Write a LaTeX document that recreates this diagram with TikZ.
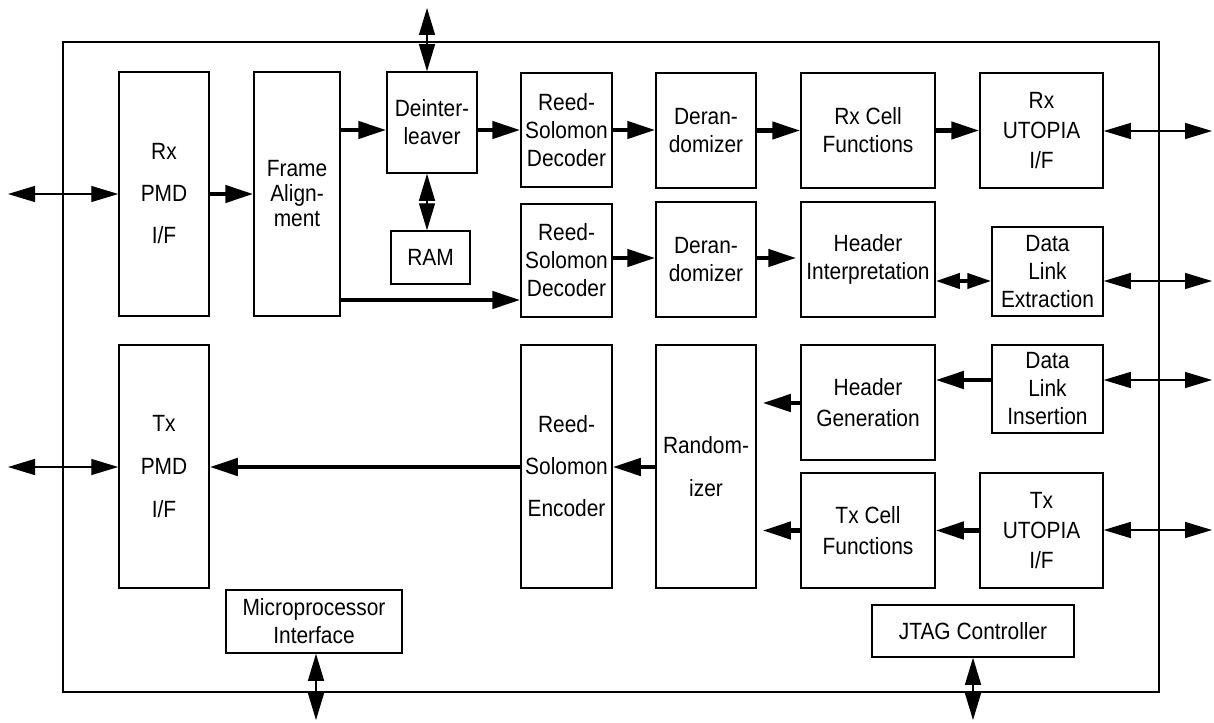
\documentclass[tikz,border=0pt]{standalone}
\usepackage{fontspec}
\setmainfont{Liberation Sans}[FakeStretch=0.89]
\usetikzlibrary{arrows.meta}
\newcommand{\blkfont}{\fontsize{23.5}{28}\selectfont}
\tikzset{
  box/.style={draw, line width=1.5pt, inner sep=0pt, align=center, font=\blkfont},
  dblarrow/.style={line width=1.3pt, {Triangle[length=27pt,width=16pt]}-{Triangle[length=27pt,width=16pt]}},
  fatarrow/.style={line width=4.5pt, -{Triangle[length=28pt,width=17pt]}},
  fatdbl/.style={line width=4pt, {Triangle[length=24pt,width=15pt]}-{Triangle[length=24pt,width=15pt]}},
}
\begin{document}
\begin{tikzpicture}[x=1pt,y=-1pt]
\useasboundingbox (0,0) rectangle (1214,722);
% chip outline
\node[draw, line width=1.6pt, inner sep=0pt, minimum width=1096pt, minimum height=650pt] (chip) at (611,367) {};
% blocks
\node[box, minimum width=90pt, minimum height=244pt] (rxpmd) at (164,194) {Rx\\[14pt]PMD\\[14pt]I/F};
\node[box, minimum width=86pt, minimum height=244pt] (fa) at (297,194) {Frame\\[-3pt]Align-\\[-3pt]ment};
\node[box, minimum width=90pt, minimum height=101pt] (deint) at (432,122.5) {Deinter-\\leaver};
\node[box, minimum width=79pt, minimum height=53pt] (ram) at (430.5,257.5) {RAM};
\node[box, minimum width=91pt, minimum height=114pt] (rs1) at (566.5,130) {Reed-\\Solomon\\Decoder};
\node[box, minimum width=100pt, minimum height=115pt] (der1) at (706,130.5) {Deran-\\domizer};
\node[box, minimum width=134pt, minimum height=115pt] (rxcell) at (868,130.5) {Rx Cell\\Functions};
\node[box, minimum width=123pt, minimum height=115pt] (rxut) at (1041.5,130.5) {Rx\\[2pt]UTOPIA\\[2pt]I/F};
\node[box, minimum width=91pt, minimum height=113pt] (rs2) at (566.5,260.5) {Reed-\\Solomon\\Decoder};
\node[box, minimum width=100pt, minimum height=115pt] (der2) at (706,259.5) {Deran-\\domizer};
\node[box, minimum width=134pt, minimum height=115pt] (hi) at (868,259.5) {Header\\Interpretation};
\node[box, minimum width=111pt, minimum height=89pt] (dle) at (1047.5,271.5) {Data\\Link\\Extraction};
\node[box, minimum width=90pt, minimum height=243pt] (txpmd) at (164,466.5) {Tx\\[15pt]PMD\\[15pt]I/F};
\node[box, minimum width=91pt, minimum height=243pt] (rse) at (566.5,466.5) {Reed-\\[14pt]Solomon\\[14pt]Encoder};
\node[box, minimum width=100pt, minimum height=243pt] (rand) at (706,466.5) {Random-\\[15pt]izer};
\node[box, minimum width=134pt, minimum height=115pt] (hg) at (868,402.5) {Header\\[3pt]Generation};
\node[box, minimum width=111pt, minimum height=88pt] (dli) at (1047.5,389) {Data\\Link\\Insertion};
\node[box, minimum width=134pt, minimum height=115pt] (txcell) at (868,530.5) {Tx Cell\\[3pt]Functions};
\node[box, minimum width=123pt, minimum height=115pt] (txut) at (1041.5,530.5) {Tx\\[2pt]UTOPIA\\[2pt]I/F};
\node[box, minimum width=176pt, minimum height=63pt] (micro) at (314,621.5) {Microprocessor\\Interface};
\node[box, minimum width=202pt, minimum height=52pt] (jtag) at (973,631) {JTAG Controller};
% free ends
\coordinate (lrx) at (8,194);
\coordinate (ltx) at (8,467);
\coordinate (rrx) at (1212,131);
\coordinate (rdle) at (1212,281);
\coordinate (rdli) at (1212,380);
\coordinate (rtx) at (1212,530);
\coordinate (top) at (427,8);
\coordinate (bmi) at (316,720);
\coordinate (bjt) at (973,720);
% thin double arrows
\draw[dblarrow] (lrx) -- (rxpmd.west);
\draw[dblarrow] (ltx) -- (txpmd.west |- ltx);
\draw[dblarrow] (rxut.east |- rrx) -- (rrx);
\draw[dblarrow] (dle.east |- rdle) -- (rdle);
\draw[dblarrow] (dli.east |- rdli) -- (rdli);
\draw[dblarrow] (txut.east |- rtx) -- (rtx);
\draw[dblarrow] (top) -- (deint.north -| top);
\draw[dblarrow] (deint.south -| top) -- (ram.north -| top);
\draw[dblarrow] (micro.south -| bmi) -- (bmi);
\draw[dblarrow] (jtag.south -| bjt) -- (bjt);
% thick data-path arrows
\draw[fatarrow] (rxpmd.east) -- (fa.west);
\draw[fatarrow] (fa.east |- 0,130) -- (deint.west |- 0,130);
\draw[fatarrow] (deint.east |- rs1.west) -- (rs1.west);
\draw[fatarrow] (rs1.east) -- (der1.west |- rs1.east);
\draw[fatarrow] (der1.east) -- (rxcell.west);
\draw[fatarrow] (rxcell.east) -- (rxut.west);
\draw[fatarrow] (fa.east |- 0,300) -- (rs2.west |- 0,300);
\draw[fatarrow] (rs2.east |- 0,258) -- (der2.west |- 0,258);
\draw[fatarrow, shorten >=4pt] (der2.east |- 0,258) -- (hi.west |- 0,258);
\draw[fatdbl] (hi.east |- 0,281) -- (dle.west |- 0,281);
\draw[fatarrow] (dli.west |- rdli) -- (hg.east |- rdli);
\draw[fatarrow, shorten >=6pt] (hg.west |- 0,403) -- (rand.east |- 0,403);
\draw[fatarrow, shorten >=6pt] (txcell.west) -- (rand.east |- txcell.west);
\draw[fatarrow] (txut.west) -- (txcell.east);
\draw[fatarrow] (rand.west |- 0,467) -- (rse.east |- 0,467);
\draw[fatarrow] (rse.west |- 0,467) -- (txpmd.east |- 0,467);
\end{tikzpicture}
\end{document}
